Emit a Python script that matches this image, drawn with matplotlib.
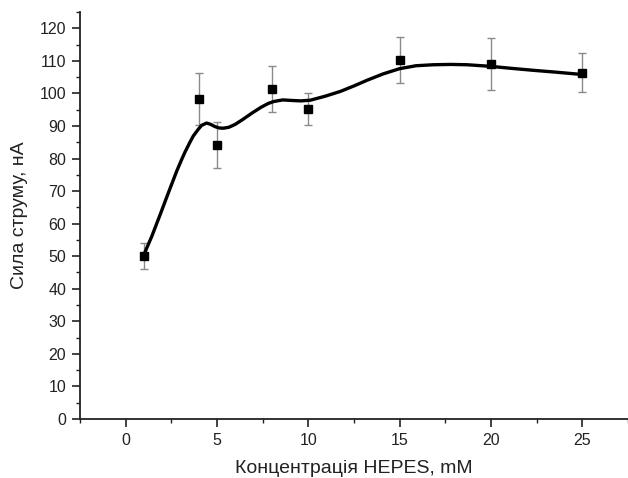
import matplotlib
matplotlib.use("Agg")
import matplotlib.pyplot as plt
from matplotlib.ticker import MultipleLocator

plt.rcParams['font.family'] = ['Liberation Sans', 'DejaVu Sans']

# measured data
conc = [1, 4, 5, 8, 10, 15, 20, 25]
current = [50.2, 98.2, 84.2, 101.3, 95.2, 110.3, 108.9, 106.3]
errors = [4, 8, 7, 7, 5, 7, 8, 6]

# smooth fit curve
curve_x = [1.0, 1.43, 1.89, 2.34, 2.8, 3.05, 3.25, 3.5, 3.7, 3.95, 4.16, 4.43, 4.65, 4.89, 5.1,
           5.34, 5.65, 6.0, 6.44, 6.9, 7.4, 7.8, 8.1, 8.6, 9.2, 9.6, 10.1, 10.9, 11.75,
           12.5, 13.2, 14.1, 15.0, 15.9, 16.85, 17.8, 18.7, 20.0, 21.1, 22.3, 23.6, 25.0]
curve_y = [50.5, 56.1, 62.8, 69.5, 76.2, 79.5, 82.0, 84.8, 86.9, 88.8, 90.2, 90.9, 90.5, 89.8, 89.4,
           89.3, 89.6, 90.5, 92.1, 93.9, 95.7, 96.9, 97.5, 98.0, 97.8, 97.7, 97.9, 99.1, 100.6,
           102.3, 104.0, 106.0, 107.6, 108.5, 108.8, 108.9, 108.8, 108.3, 107.7, 107.1, 106.5, 105.8]

x_ticks = [0, 5, 10, 15, 20, 25]
y_ticks = list(range(0, 121, 10))

fig = plt.figure(figsize=(6.28, 4.78), dpi=100)
ax = fig.add_axes([80/628, 1-419/478, 1-80/628, (419-12)/478])

ax.errorbar(conc, current, yerr=errors, fmt='none', ecolor='#8a8a8a',
            elinewidth=1.0, capsize=3.2, capthick=1.0, zorder=2)
ax.plot(curve_x, curve_y, color='black', lw=2.4, solid_capstyle='round',
        solid_joinstyle='round', zorder=3)
ax.plot(conc, current, 's', color='black', markersize=6.2, zorder=4)

ax.set_xlim(-2.5, 27.5)
ax.set_ylim(0, 125)
ax.set_xticks(x_ticks)
ax.set_yticks(y_ticks)
ax.xaxis.set_minor_locator(MultipleLocator(2.5))
ax.yaxis.set_minor_locator(MultipleLocator(5))

for s in ['top', 'right']:
    ax.spines[s].set_visible(False)
for s in ['left', 'bottom']:
    ax.spines[s].set_linewidth(1.3)
    ax.spines[s].set_color('#222222')

ax.tick_params(which='major', direction='out', length=6, width=1.2, labelsize=11.5,
               colors='#222222', pad=4)
ax.tick_params(which='minor', direction='out', length=3, width=1.0, colors='#222222')

ax.set_xlabel('Концентрація HEPES, mM', fontsize=14, color='#222222', labelpad=9)
ax.set_ylabel('Сила струму, нА', fontsize=14, color='#222222', labelpad=8)

fig.savefig('out.png', dpi=100)
